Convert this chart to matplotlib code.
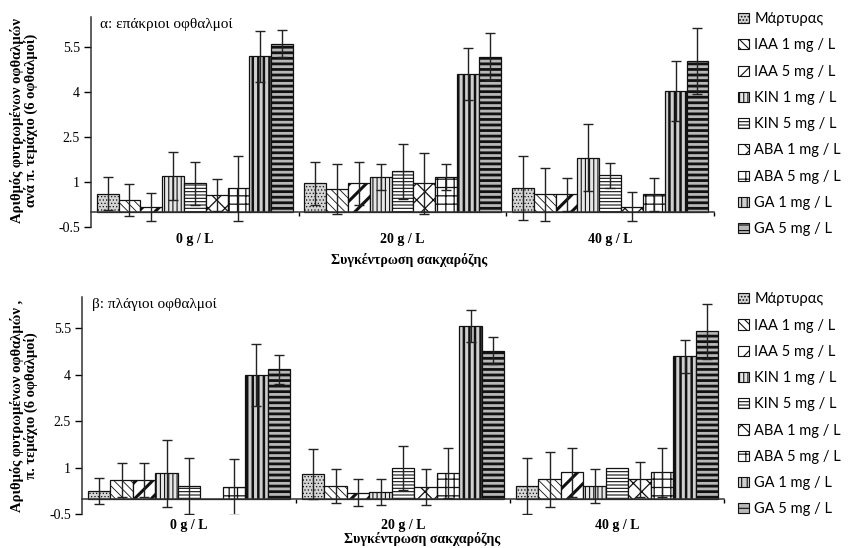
import numpy as np
import matplotlib
matplotlib.use('Agg')
import matplotlib.pyplot as plt
from matplotlib.patches import Patch

# data
treatments = ['Μάρτυρας', 'IAA 1 mg / L', 'IAA 5 mg / L', 'KIN 1 mg / L', 'KIN 5 mg / L',
              'ABA 1 mg / L', 'ABA 5 mg / L', 'GA 1 mg / L', 'GA 5 mg / L']
sucrose = ['0 g / L', '20 g / L', '40 g / L']
yticks = [-0.5, 1, 2.5, 4, 5.5]

# α: apical buds, rows = sucrose level, columns = treatment
apical_mean = np.array([
    [0.60, 0.40, 0.15, 1.20, 0.96, 0.56, 0.78, 5.19, 5.61],
    [0.96, 0.77, 0.96, 1.17, 1.36, 0.96, 1.17, 4.59, 5.17],
    [0.80, 0.58, 0.58, 1.80, 1.22, 0.17, 0.58, 4.02, 5.03],
])
apical_err = np.array([
    [0.55, 0.54, 0.47, 0.80, 0.72, 0.53, 1.09, 0.85, 0.45],
    [0.72, 0.84, 0.72, 0.44, 0.92, 1.02, 0.44, 0.86, 0.78],
    [1.08, 0.90, 0.54, 1.12, 0.42, 0.48, 0.54, 1.00, 1.10],
])

# β: lateral buds
lateral_mean = np.array([
    [0.23, 0.60, 0.60, 0.82, 0.40, 0.00, 0.38, 3.98, 4.17],
    [0.79, 0.40, 0.19, 0.21, 0.99, 0.36, 0.83, 5.57, 4.77],
    [0.41, 0.62, 0.84, 0.41, 1.00, 0.62, 0.84, 4.59, 5.39],
])
lateral_err = np.array([
    [0.42, 0.55, 0.55, 1.08, 0.90, 0.00, 0.91, 1.00, 0.47],
    [0.80, 0.55, 0.43, 0.41, 0.70, 0.58, 0.80, 0.52, 0.43],
    [0.91, 0.88, 0.80, 0.55, 0.00, 0.56, 0.80, 0.53, 0.88],
])

# look of each treatment
faces = ['#d4d4d4', 'white', 'white', '#e6e6e6', 'white', 'white', 'white', '#cfcfcf', '#b8b8b8']
hatches = ['.....', '\\\\\\\\', '//', '||||', '-----', 'xx', '++', '|||', '---']
hatch_lw = [0.5, 0.6, 2.2, 0.8, 0.8, 0.9, 0.9, 1.8, 2.0]

plt.rcParams['font.family'] = ['Liberation Serif', 'DejaVu Serif']
plt.rcParams['hatch.linewidth'] = 0.8

w = 0.105


def draw_panel(ax, means, errs, title, ylab, lab_y, leg_y, xlab_x, xlab_pad):
    x = np.arange(len(sucrose))
    for i in range(len(treatments)):
        xi = x + (i - 4) * w
        bars = ax.bar(xi, means[:, i], w, color=faces[i], hatch=hatches[i],
                      edgecolor='#111111', linewidth=0.9, zorder=2)
        for b in bars:
            if hasattr(b, 'set_hatch_linewidth'):
                b.set_hatch_linewidth(hatch_lw[i])
        ok = errs[:, i] > 0
        ax.errorbar(xi[ok], means[ok, i], yerr=errs[ok, i], fmt='none',
                    ecolor='#222222', elinewidth=1.0, capsize=3.5, capthick=1.0, zorder=3)

    ax.set_xlim(-0.5, 2.5)
    ax.set_ylim(-0.5, 6.5)
    ax.set_yticks(yticks)
    ax.set_yticklabels(['-0.5', '1', '2.5', '4', '5.5'], fontsize=10)
    ax.spines['top'].set_visible(False)
    ax.spines['right'].set_visible(False)
    ax.spines['bottom'].set_position(('data', 0))
    for s in ('left', 'bottom'):
        ax.spines[s].set_linewidth(1.1)
        ax.spines[s].set_color('#333333')
    ax.tick_params(axis='y', direction='out', length=5, width=1.0, pad=3)

    ax.set_xticks([0.5, 1.5, 2.5])
    ax.set_xticklabels([])
    ax.tick_params(axis='x', which='major', direction='out', length=3, width=1.0)
    ax.set_xticks(x, minor=True)
    ax.set_xticklabels(sucrose, minor=True, fontsize=10, fontweight='bold')
    ax.tick_params(axis='x', which='minor', length=0, pad=15)
    ax.set_xlabel('Συγκέντρωση σακχαρόζης', fontsize=10, fontweight='bold',
                  labelpad=xlab_pad, x=xlab_x)

    ax.text(0.015, 0.995, title, transform=ax.transAxes, ha='left', va='top', fontsize=11)

    fig.text(0.028, lab_y, ylab, rotation=90, ha='center', va='center',
             fontsize=10.5, fontweight='bold', linespacing=1.0)

    handles = [Patch(facecolor=faces[i], hatch=hatches[i], edgecolor='#111111', linewidth=0.8)
               for i in range(len(treatments))]
    ax.legend(handles, treatments, loc='upper left', bbox_to_anchor=(0.856, leg_y),
              bbox_transform=fig.transFigure, frameon=False, borderpad=0,
              handlelength=0.7, handleheight=0.7, handletextpad=0.4,
              labelspacing=0.84, prop={'family': 'Lato', 'size': 10.5})


fig = plt.figure(figsize=(8.54, 5.48), dpi=100)
ax1 = fig.add_axes([0.1066, 0.586, 0.7295, 0.383])
ax2 = fig.add_axes([0.096, 0.062, 0.752, 0.396])

draw_panel(ax1, apical_mean, apical_err, 'α: επάκριοι οφθαλμοί',
           'Αριθμός φυτρωμένων οφθαλμών\nανά π. τεμάχιο (6 οφθαλμοί)', 0.78, 0.991, 0.51, 5)
draw_panel(ax2, lateral_mean, lateral_err, 'β: πλάγιοι οφθαλμοί',
           'Αριθμός φυτρωμένων οφθαλμών ,\nπ. τεμάχιο (6 οφθαλμοί)', 0.26, 0.480, 0.53, 0)

fig.savefig('out.png', dpi=100)
